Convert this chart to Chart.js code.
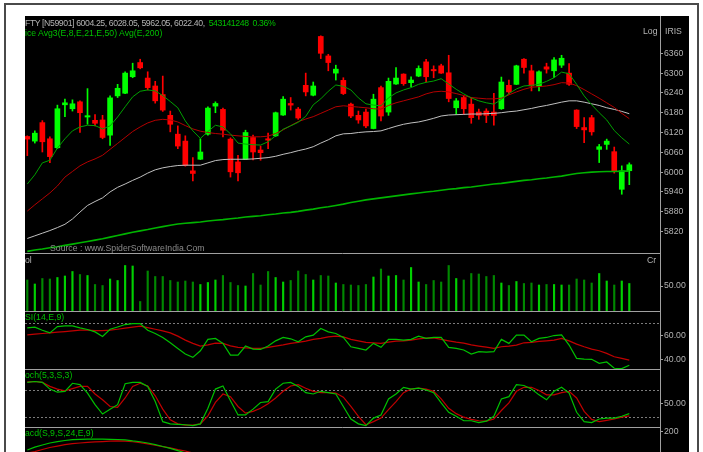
<!DOCTYPE html>
<html>
<head>
<meta charset="utf-8">
<title>NIFTY</title>
<script src="https://cdn.jsdelivr.net/npm/chart.js@4.4.1/dist/chart.umd.min.js"></script>
<style>
  html, body { margin: 0; padding: 0; background: #fff; }
  body { width: 703px; height: 452px; overflow: hidden; position: relative; }
  #frame { position: absolute; left: 4px; top: 3px; width: 695px; height: 470px; border: 2px solid #4a4a4a; box-sizing: border-box; }
  #board { position: absolute; left: 25px; top: 16px; width: 664px; height: 436px; background: #000; }
  #board canvas { position: absolute; left: 0; }
  .lbl { position: absolute; font-family: "Liberation Sans", Arial, sans-serif; font-size: 8.7px; line-height: 9px; white-space: pre; color: #b4b4b4; }
  .grn { color: #00c000; }
</style>
</head>
<body>
<div id="frame"></div>
<div id="board">
  <canvas id="cPrice" width="664" height="237" style="top:0"></canvas>
  <canvas id="cVol" width="664" height="58" style="top:237px"></canvas>
  <canvas id="cRsi" width="664" height="58" style="top:295px"></canvas>
  <canvas id="cStoch" width="664" height="58" style="top:353px"></canvas>
  <canvas id="cMacd" width="664" height="25" style="top:411px"></canvas>

  <div class="lbl" style="left:0;top:3px;letter-spacing:-0.4px">FTY [N59901] 6004.25, 6028.05, 5962.05, 6022.40,  <span class="grn">543141248  0.36%</span></div>
  <div class="lbl grn" style="left:0;top:13px">ice Avg3(E,8,E,21,E,50) Avg(E,200)</div>
  <div class="lbl" style="left:618px;top:11px">Log</div>
  <div class="lbl" style="left:640px;top:11px">IRIS</div>
  <div class="lbl" style="left:25px;top:228px;color:#8c8c8c">Source : www.SpiderSoftwareIndia.Com</div>
  <div class="lbl" style="left:0;top:240px">ol</div>
  <div class="lbl" style="left:622px;top:240px">Cr</div>
  <div class="lbl grn" style="left:0;top:297px">SI(14,E,9)</div>
  <div class="lbl grn" style="left:0;top:355px">och(5,3,S,3)</div>
  <div class="lbl grn" style="left:0;top:413px">acd(S,9,S,24,E,9)</div>
</div>

<script>
// candles, one per session
const opens = [6108,6094,6150,6101,6074,6204,6192,6213,6167,6157, 6158,6112,6231,6239,6289,6332,6285,6261,6235,6172,
  6115,6094,6004,6039,6115,6200,6190,6100,6031,6039, 6105,6067,6101,6110,6173,6208,6191,6263,6233,6411,
  6352,6300,6278,6206,6172,6182,6132,6256,6182,6267, 6297,6271,6291,6334,6311,6322,6301,6195,6226,6206,
  6182,6185,6182,6192,6263,6266,6342,6307,6261,6319, 6307,6324,6300,6188,6135,6165,6069,6084,6062,5948, 6004.25];
const highs = [6110,6125,6156,6107,6203,6221,6219,6216,6253,6174, 6172,6231,6266,6304,6330,6342,6304,6275,6291,6185,
  6140,6110,6044,6101,6198,6213,6194,6104,6051,6127, 6112,6079,6118,6182,6229,6226,6196,6300,6273,6413,
  6357,6324,6286,6209,6185,6191,6236,6261,6285,6317, 6298,6289,6322,6342,6322,6327,6354,6223,6231,6226,
  6191,6192,6239,6288,6279,6324,6344,6324,6307,6330, 6347,6354,6329,6189,6165,6172,6084,6100,6076,6019, 6028.05];
const lows = [6050,6088,6061,6029,6071,6168,6185,6120,6145,6140, 6101,6081,6226,6238,6286,6313,6249,6209,6184,6122,
  6071,6018,5973,6038,6112,6180,6107,5985,5973,6038, 6037,6036,6071,6108,6172,6188,6160,6231,6231,6344,
  6307,6279,6235,6165,6148,6135,6131,6155,6172,6266, 6263,6259,6289,6273,6286,6299,6213,6175,6175,6148,
  6160,6150,6142,6190,6236,6265,6300,6246,6246,6300, 6286,6317,6263,6132,6089,6112,6029,6069,5997,5933, 5962.05];
const closes = [6100,6118,6092,6047,6192,6210,6207,6180,6171,6148, 6105,6225,6254,6300,6307,6316,6256,6216,6188,6145,
  6079,6021,5996,6061,6194,6208,6127,6001,5998,6120, 6061,6059,6097,6180,6221,6203,6164,6243,6261,6360,
  6332,6312,6238,6170,6158,6140,6221,6170,6275,6285, 6268,6279,6314,6289,6307,6300,6223,6216,6192,6165,
  6172,6172,6172,6273,6243,6322,6317,6261,6304,6312, 6340,6345,6266,6138,6128,6122,6077,6094,6004,6004, 6022.40];

// moving averages as drawn
const ema8 = [5964,5992,6028,6036,6073,6101,6125,6137,6142,6141, 6131,6140,6167,6198,6228,6245,6249,6246,6232,6214,
  6195,6155,6125,6102,6123,6142,6137,6116,6088,6085, 6083,6082,6092,6110,6130,6140,6151,6169,6204,6222,
  6245,6264,6260,6249,6225,6207,6203,6201,6225,6240, 6249,6256,6266,6272,6276,6283,6267,6251,6237,6225,
  6216,6210,6206,6220,6238,6252,6261,6263,6266,6275, 6286,6303,6298,6266,6231,6204,6180,6158,6126,6104, 6085];
const ema21 = [5882,5901,5919,5937,5958,5985,6002,6019,6031,6040, 6051,6069,6087,6105,6123,6137,6149,6157,6160,6158,
  6152,6141,6131,6124,6120,6117,6115,6112,6110,6108, 6107,6107,6109,6117,6128,6141,6153,6161,6168,6178,
  6188,6198,6201,6199,6197,6195,6192,6191,6202,6210, 6216,6222,6228,6237,6243,6245,6243,6238,6232,6226,
  6224,6222,6222,6224,6234,6243,6251,6257,6259,6261, 6265,6271,6270,6262,6250,6237,6224,6210,6196,6178, 6162];
const ema50 = [5799,5807,5815,5823,5832,5842,5858,5879,5899,5911, 5922,5940,5954,5964,5975,5985,5997,6007,6013,6017,
  6020,6021,6021,6021,6028,6035,6038,6039,6039,6039, 6040,6042,6044,6048,6054,6059,6065,6070,6077,6088,
  6098,6110,6116,6117,6120,6122,6123,6125,6132,6139, 6145,6149,6152,6157,6163,6170,6173,6174,6175,6176,
  6176,6177,6178,6180,6183,6185,6189,6193,6198,6202, 6207,6212,6216,6216,6212,6207,6202,6195,6190,6184, 6177];
const ema200 = [5760,5764,5767,5771,5774,5778,5782,5786,5790,5794, 5798,5803,5808,5813,5818,5822,5826,5831,5835,5839,
  5843,5845,5847,5849,5852,5854,5856,5859,5861,5864, 5866,5868,5871,5873,5876,5878,5881,5885,5888,5892,
  5895,5899,5903,5908,5912,5916,5919,5922,5925,5928, 5931,5934,5937,5940,5942,5945,5948,5950,5953,5955,
  5958,5961,5964,5966,5969,5972,5975,5977,5980,5982, 5985,5988,5992,5996,5998,6000,6001,6002,6002,6003, 6003];

const volume = [62,54,65,64,67,70,79,73,71,53, 51,64,61,91,90,19,80,69,69,61, 58,60,58,53,57,62,71,57,51,50,
  75,52,79,67,58,61,80,73,62,71, 70,56,53,52,51,53,68,84,70,71, 62,87,58,53,61,58,91,65,62,75,
  74,69,71,56,51,59,55,56,52,53, 53,52,52,64,62,56,75,60,52,60, 55];

const rsi = [66.0,66.6,64.1,61.9,67.1,67.7,67.7,66.0,64.7,62.7, 58.9,64.9,66.8,68.8,69.6,69.6,64.1,61.4,58.1,53.7,
  49.0,44.4,41.6,47.1,56.5,57.3,53.2,43.5,43.5,51.0, 48.5,48.2,51.0,55.3,58.1,57.0,54.5,58.6,60.0,65.5,
  62.7,61.4,58.1,50.4,49.0,47.7,53.2,49.9,56.5,56.5, 55.9,56.5,59.2,57.3,58.1,58.1,49.9,49.0,47.7,44.4,
  46.3,46.0,46.3,56.5,53.2,60.0,60.0,54.5,57.3,58.1, 59.7,60.3,51.8,40.8,40.2,40.0,36.7,37.8,32.6,32.3, 35.1];
const rsiSignal = [60.3,60.8,61.4,61.9,62.5,63.0,63.5,64.1,64.1,63.8, 63.8,64.1,64.9,65.8,66.6,67.4,66.3,64.9,63.5,61.9,
  59.2,55.9,53.2,51.0,52.0,53.4,53.2,51.2,49.9,49.5, 49.0,49.0,49.9,51.0,52.0,53.2,54.0,55.1,56.5,57.3,
  58.6,59.2,58.6,56.5,55.3,54.0,53.7,53.2,54.2,55.1, 55.3,55.9,57.0,57.5,57.8,56.5,55.3,54.2,53.4,52.0,
  51.0,50.1,49.0,50.4,51.0,51.8,53.7,54.0,54.8,55.3, 55.9,57.3,55.3,52.6,50.4,48.5,47.1,44.9,42.1,40.8, 39.4];

const stochK = [98,100,98,83,76,78,96,93,74,48, 27,38,48,95,98,98,89,55,10,5, 4,3,1,5,40,83,90,57,25,25,
  38,53,55,83,96,98,89,75,72,78, 75,72,44,16,5,1,18,25,61,72, 87,83,85,81,75,52,31,22,12,12,
  8,11,22,61,66,93,91,83,70,59, 78,87,74,31,10,8,16,18,18,22, 28];
const stochD = [99,100,98,89,83,79,84,89,89,72, 59,44,42,63,89,96,90,68,38,14, 5,2,2,5,23,53,72,66,44,29,
  33,40,50,63,78,90,93,85,78,75, 75,74,65,44,22,3,10,18,37,55, 75,83,85,83,78,61,40,28,20,15,
  12,11,16,35,52,78,87,87,80,70, 70,75,78,63,33,15,10,13,16,20, 23];

// only the top of the MACD pane is on screen
const macd = [110,124,134,144,151,156,160,162,163,163, 163,162,161,159,154,150,144,136,127,118, 107,95];
const macdSignal = [95,102,112,122,129,136,141,144,147,149, 151,153,154,153,150,146,140,133,126,120, 112,105,95];

const priceTicks = [5820,5880,5940,6000,6060,6120,6180,6240,6300,6360];

const FONT = '"Liberation Sans", Arial, sans-serif';
const AXIS = '#a0a0a0';
const TXT = '#b4b4b4';
const X_MIN = -0.306, X_MAX = 84.08;

const pts = arr => arr.map((v, i) => ({x: i, y: v}));
const candleColors = closes.map((c, i) => c >= opens[i] ? '#00ff00' : '#ff0000');
const volColors = closes.map((c, i) => c >= opens[i] ? '#00d000' : '#008800');
const bodies = opens.map((o, i) => ({x: i, y: [o, closes[i]]}));
const wicks = lows.map((l, i) => ({x: i, y: [l, highs[i]]}));

// panel separators and dashed levels
const panel = {
  id: 'panel',
  beforeDatasetsDraw(chart, args, o) {
    const {ctx, chartArea: a} = chart;
    const y = chart.scales.y;
    ctx.save();
    ctx.lineWidth = 1;
    ctx.strokeStyle = '#7c7c7c';
    ctx.setLineDash([2, 2]);
    (o.dashed || []).forEach(v => {
      const py = Math.round(y.getPixelForValue(v)) + 0.5;
      ctx.beginPath(); ctx.moveTo(a.left, py); ctx.lineTo(a.right, py); ctx.stroke();
    });
    ctx.setLineDash([]);
    if (o.top) {
      ctx.strokeStyle = AXIS;
      ctx.beginPath(); ctx.moveTo(a.left, a.top + 0.5); ctx.lineTo(a.right, a.top + 0.5); ctx.stroke();
    }
    ctx.restore();
  }
};

function yAxis(min, max, ticks, fmt) {
  return {
    position: 'right', min, max,
    grid: {drawOnChartArea: false, drawTicks: true, tickLength: 3, color: AXIS},
    border: {display: true, color: AXIS},
    ticks: {color: TXT, padding: 1, font: {family: FONT, size: 8.7}, callback: fmt},
    afterBuildTicks: s => { s.ticks = ticks.map(v => ({value: v})); },
    afterFit: s => { s.width = 29; s.paddingTop = 0; s.paddingBottom = 0; }
  };
}

function opts(y, p) {
  return {
    animation: false, responsive: false, devicePixelRatio: 1,
    layout: {padding: 0},
    plugins: {legend: {display: false}, tooltip: {enabled: false}, panel: p},
    scales: {
      x: {type: 'linear', min: X_MIN, max: X_MAX, offset: false, grid: {offset: false}, display: false},
      y
    }
  };
}

const line = (data, color, width) => ({
  type: 'line', data: pts(data), borderColor: color, borderWidth: width || 1,
  pointRadius: 0, tension: 0, order: 0
});

new Chart(document.getElementById('cPrice'), {
  type: 'bar',
  data: {datasets: [
    line(ema8, '#00a000'),
    line(ema21, '#b40000'),
    line(ema50, '#c0c0c0'),
    line(ema200, '#00b400', 1.6),
    {data: bodies, backgroundColor: candleColors, barThickness: 5, grouped: false, order: 1},
    {data: wicks, backgroundColor: candleColors, barThickness: 1, grouped: false, order: 2}
  ]},
  options: opts(yAxis(5755, 6473, priceTicks, v => String(v)), {}),
  plugins: [panel]
});

new Chart(document.getElementById('cVol'), {
  type: 'bar',
  data: {datasets: [{data: pts(volume), backgroundColor: volColors, barThickness: 1.5, grouped: false}]},
  options: opts(yAxis(0, 116, [50], v => v.toFixed(2)), {top: true}),
  plugins: [panel]
});

new Chart(document.getElementById('cRsi'), {
  type: 'line',
  data: {datasets: [line(rsi, '#00c000', 1.2), line(rsiSignal, '#c00000', 1.2)]},
  options: opts(yAxis(32, 80, [40, 60], v => v.toFixed(2)), {top: true, dashed: [70]}),
  plugins: [panel]
});

new Chart(document.getElementById('cStoch'), {
  type: 'line',
  data: {datasets: [line(stochK, '#00c000', 1.2), line(stochD, '#c00000', 1.2)]},
  options: opts(yAxis(-2, 128, [50], v => v.toFixed(2)), {top: true, dashed: [80, 20]}),
  plugins: [panel]
});

new Chart(document.getElementById('cMacd'), {
  type: 'line',
  data: {datasets: [line(macd, '#00c000', 1.2), line(macdSignal, '#c00000', 1.2)]},
  options: opts(yAxis(100, 222, [200], v => String(v)), {top: true}),
  plugins: [panel]
});
</script>
</body>
</html>
